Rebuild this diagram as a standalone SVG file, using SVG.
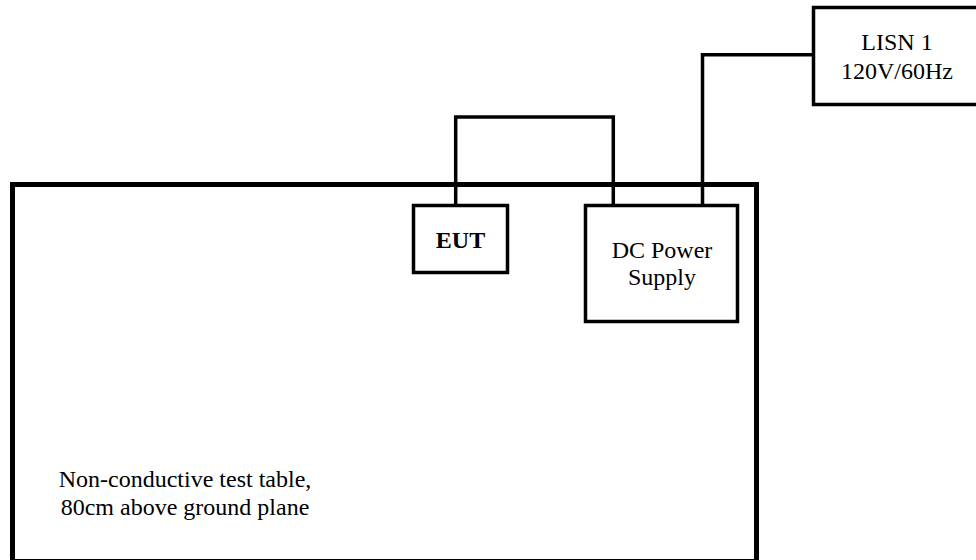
<svg xmlns="http://www.w3.org/2000/svg" width="976" height="560" viewBox="0 0 976 560">
<style>
.box{fill:#fff;stroke:#000;stroke-width:3.5}
.table{fill:#fff;stroke:#000;stroke-width:5}
.wire{fill:none;stroke:#000;stroke-width:3.5}
text{font-family:"Liberation Serif","Times New Roman",serif;font-size:24px;fill:#000;text-anchor:middle}
</style>
<rect width="976" height="560" fill="#fff"/>
<g id="table">
<rect class="table" x="12.5" y="184.5" width="744" height="377"/>
<text x="185" y="487">Non-conductive test table,</text>
<text x="185" y="515">80cm above ground plane</text>
</g>
<g id="connectors">
<polyline class="wire" points="455.7,205 455.7,117 613.3,117 613.3,205"/>
<polyline class="wire" points="702.5,205 702.5,54.7 813.5,54.7"/>
</g>
<g id="eut">
<rect class="box" x="413.5" y="205.5" width="94" height="67"/>
<text x="460.5" y="248" font-weight="bold">EUT</text>
</g>
<g id="dc-power-supply">
<rect class="box" x="585.5" y="205.5" width="152" height="116"/>
<text x="662" y="258">DC Power</text>
<text x="662" y="285">Supply</text>
</g>
<g id="lisn">
<rect class="box" x="813.5" y="7.5" width="180" height="97"/>
<text x="897" y="50">LISN 1</text>
<text x="897" y="79">120V/60Hz</text>
</g>
</svg>
